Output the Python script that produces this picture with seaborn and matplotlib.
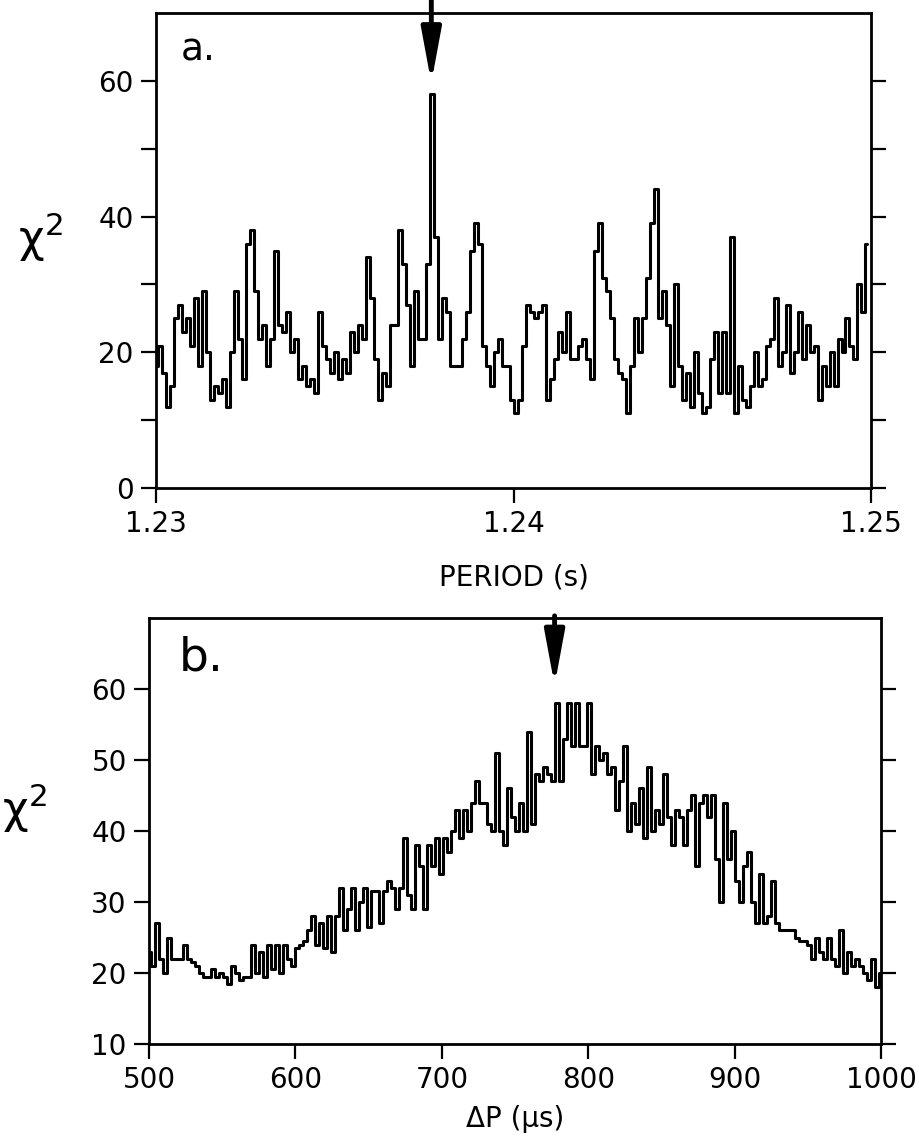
import numpy as np
import matplotlib
matplotlib.use('Agg')
import matplotlib.pyplot as plt
import seaborn as sns

chi2_a = [
    18, 21, 17, 12, 15, 25, 27, 23, 25, 21,
    28, 18, 29, 20, 13, 15, 14, 16, 12, 20,
    29, 22, 16, 36, 38, 29, 22, 24, 18, 22,
    35, 24, 23, 26, 20, 22, 16, 18, 15, 16,
    14, 26, 21, 19, 17, 20, 16, 19, 17, 23,
    20, 24, 22, 34, 28, 19, 13, 17, 15, 24,
    24, 38, 33, 27, 18, 29, 22, 22, 33, 58,
    37, 22, 28, 26, 18, 18, 18, 22, 26, 35,
    39, 36, 21, 18, 15, 20, 22, 18, 18, 13,
    11, 13, 21, 27, 26, 25, 26, 27, 13, 16,
    19, 23, 20, 26, 19, 19, 21, 22, 19, 16,
    35, 39, 31, 29, 25, 19, 17, 16, 11, 18,
    25, 20, 25, 31, 39, 44, 25, 29, 24, 15,
    30, 18, 13, 17, 12, 20, 14, 11, 12, 19,
    23, 14, 23, 14, 37, 11, 18, 13, 12, 15,
    20, 15, 16, 21, 22, 28, 18, 20, 27, 17,
    20, 26, 19, 24, 20, 21, 13, 18, 15, 20,
    15, 22, 20, 25, 21, 19, 30, 26, 36,
]
period_a = np.linspace(1.2300, 1.2499, len(chi2_a))

# panel b: chi^2 vs period derivative
chi2_b = [
    23, 21, 27, 22, 20, 25, 22, 22, 22, 24,
    22, 21.5, 21, 20, 19.5, 19.5, 20.5, 19.5, 20, 19.5,
    18.5, 21, 20, 19, 19.5, 19.5, 24, 20, 23, 19.5,
    24, 20.5, 24, 20, 24, 22, 21, 23.5, 24, 24.5,
    26, 28, 24, 27, 23.5, 28, 23, 28, 32, 26,
    29, 32, 26, 30, 32, 26.5, 31.5, 31.5, 27, 31.5,
    33,
    32, 29, 32, 39, 31, 29, 38, 35, 29, 38,
    35, 39, 34, 39, 37, 40, 43, 39, 43, 40,
    44, 47, 44, 44, 41, 40, 51, 40, 38, 46,
    42, 40, 44, 40, 54, 41, 48, 47, 49, 48,
    47, 58, 47, 53, 58, 52, 58, 52, 52, 58,
    48, 52, 50, 51, 48, 49, 43, 47, 52, 40,
    44, 41, 46, 39, 49, 40, 43, 41, 48, 42,
    38, 43, 42, 38, 43, 45, 35, 44, 45, 42,
    45, 36, 30, 44, 36, 40, 33, 30, 35, 37,
    30, 27, 34, 27, 28, 33, 27, 26, 26, 26,
    26, 25, 24.5, 24.5, 24, 22, 25, 23, 22, 25,
    22, 21, 26, 20, 23, 21, 22, 21, 20, 19,
    22, 18, 20,
]
dp_b = np.linspace(500, 1000, len(chi2_b))

peak_a = 1.2377
peak_b = 777

sns.set_theme(style='ticks')
plt.rcParams['font.family'] = ['DejaVu Sans']
plt.rcParams['text.color'] = 'black'
plt.rcParams['axes.labelcolor'] = 'black'

fig = plt.figure(figsize=(9.2, 11.41), dpi=100)
ax_a = fig.add_axes([0.1696, 0.5723, 0.7772, 0.4163])
ax_b = fig.add_axes([0.162, 0.0850, 0.7957, 0.3734])

sns.lineplot(x=period_a, y=chi2_a, ax=ax_a, color='black', lw=2.2,
             drawstyle='steps-mid', estimator=None)
sns.lineplot(x=dp_b, y=chi2_b, ax=ax_b, color='black', lw=2.2,
             drawstyle='steps-mid', estimator=None)

# axes limits / ticks
ax_a.set_xlim(1.23, 1.25)
ax_a.set_ylim(0, 70)
ax_a.set_xticks([1.23, 1.24, 1.25])
ax_a.set_xticklabels(['1.23', '1.24', '1.25'])
ax_a.set_yticks(range(0, 61, 10))
ax_a.set_yticklabels(['0', '', '20', '', '40', '', '60'])

ax_b.set_xlim(500, 1000)
ax_b.set_ylim(10, 70)
ax_b.set_xticks(range(500, 1001, 100))
ax_b.set_yticks(range(10, 61, 10))

for ax in (ax_a, ax_b):
    ax.tick_params(axis='both', direction='out', length=11, width=1.6,
                   labelsize=20, colors='black', pad=5)
    ax.tick_params(axis='y', right=True, labelright=False)
    for sp in ax.spines.values():
        sp.set_linewidth(2)
        sp.set_color('black')
        sp.set_visible(True)
    ax.grid(False)

ax_a.set_xlabel('PERIOD (s)', fontsize=20, labelpad=18, color='black')
ax_b.set_xlabel('ΔP (μs)', fontsize=20, labelpad=8, color='black')
ax_a.set_ylabel('')
ax_b.set_ylabel('')

fig.text(40 / 920, 1 - 237 / 1141, 'χ$^{2}$', fontsize=32, ha='center', va='center',
         color='black')
fig.text(24 / 920, 1 - 808 / 1141, 'χ$^{2}$', fontsize=32, ha='center', va='center',
         color='black')

ax_a.text(0.035, 0.96, 'a.', transform=ax_a.transAxes, fontsize=27, va='top',
          color='black')
ax_b.text(0.04, 0.96, 'b.', transform=ax_b.transAxes, fontsize=34, va='top',
          color='black')

arrow = dict(arrowstyle='-|>,head_length=2.7,head_width=0.5', lw=3.5,
             color='black', shrinkA=0, shrinkB=0)
ax_a.annotate('', xy=(peak_a, 59.7), xytext=(peak_a, 72), arrowprops=arrow,
              annotation_clip=False)
ax_b.annotate('', xy=(peak_b, 60.5), xytext=(peak_b, 70.3), arrowprops=arrow,
              annotation_clip=False)

fig.savefig('out.png', dpi=100)
